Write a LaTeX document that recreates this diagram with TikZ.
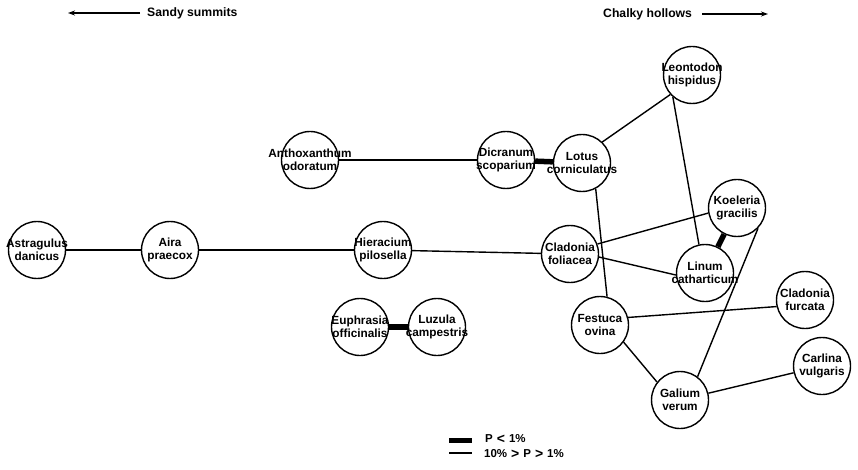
\documentclass[tikz,border=0pt]{standalone}
\usepackage{fontspec}
\setmainfont{Liberation Sans}
\usetikzlibrary{arrows.meta}
\newcommand{\bigrel}[1]{\hspace{4pt}\raisebox{-0.5pt}{\fontsize{14}{12}\selectfont #1}\hspace{4pt}}
\begin{document}
\begin{tikzpicture}[x=1pt,y=-1pt,
  sp/.style={draw, circle, line width=1.4pt, minimum size=57pt, inner sep=0pt},
  lbl/.style={font=\bfseries\fontsize{11.8}{13.5}\selectfont, align=center, inner sep=0pt},
  weaklink/.style={line width=1.4pt},
  stronglink/.style={line width=5.5pt},
  toplbl/.style={font=\bfseries\fontsize{12.2}{13}\selectfont, inner sep=0pt, anchor=west},
  legtxt/.style={font=\bfseries\fontsize{11.5}{12}\selectfont, inner sep=0pt, anchor=west},
  dirarrow/.style={line width=1.4pt, -{Stealth[length=7pt,width=5pt]}}]
\useasboundingbox (0,0) rectangle (858,470);

% species
\node[sp, label={[lbl]center:{Astragulus\\danicus}}] (ast) at (37,250) {};
\node[sp, label={[lbl]center:{Aira\\praecox}}] (aira) at (170,250) {};
\node[sp, label={[lbl]center:{Hieracium\\pilosella}}] (hier) at (383,250) {};
\node[sp, label={[lbl]center:{Anthoxanthum\\odoratum}}] (antho) at (310,160) {};
\node[sp, label={[lbl]center:{Dicranum\\scoparium}}] (dicr) at (506,160) {};
\node[sp, label={[lbl]center:{Lotus\\corniculatus}}] (lotus) at (582,163) {};
\node[sp, label={[lbl]center:{Leontodon\\hispidus}}] (leon) at (692,75) {};
\node[sp, label={[lbl]center:{Koeleria\\gracilis}}] (koel) at (737,208) {};
\node[sp, label={[lbl]center:{Cladonia\\foliacea}}] (clfol) at (570,254) {};
\node[sp, label={[lbl]center:{Linum\\catharticum}}] (linum) at (705,273) {};
\node[sp, label={[lbl]center:{Festuca\\ovina}}] (fest) at (600,325) {};
\node[sp, label={[lbl]center:{Cladonia\\furcata}}] (clfur) at (805,300) {};
\node[sp, label={[lbl]center:{Euphrasia\\officinalis}}] (euph) at (360,327) {};
\node[sp, label={[lbl]center:{Luzula\\campestris}}] (luz) at (437,327) {};
\node[sp, label={[lbl]center:{Galium\\verum}}] (gal) at (680,400) {};
\node[sp, label={[lbl]center:{Carlina\\vulgaris}}] (carl) at (822,366) {};

% weak links
\draw[weaklink] (ast) -- (aira);
\draw[weaklink] (aira) -- (hier);
\draw[weaklink] (hier) -- (clfol);
\draw[weaklink] (antho) -- (dicr);
\draw[weaklink] (lotus.46) -- (leon.222);
\draw[weaklink] (lotus.-62) -- (fest.76);
\draw[weaklink] (leon.229) -- (linum.102);
\draw[weaklink] (clfol.20) -- (koel.190);
\draw[weaklink] (clfol.-6) -- (linum.184);
\draw[weaklink] (koel.-44) -- (gal.53);
\draw[weaklink] (fest.15) -- (clfur.193);
\draw[weaklink] (fest.-36) -- (gal.142);
\draw[weaklink] (gal) -- (carl);

% strong links
\draw[stronglink] (dicr) -- (lotus);
\draw[stronglink] (koel) -- (linum);
\draw[stronglink] (euph) -- (luz);

% direction labels
\coordinate (sa1) at (140,13);
\coordinate (sa2) at (68,13);
\draw[dirarrow] (sa1) -- (sa2);
\node[toplbl] (sandy) at (147,13) {Sandy summits};
\node[toplbl] (chalky) at (603,14) {Chalky hollows};
\coordinate (ch1) at (702,14);
\coordinate (ch2) at (768,14);
\draw[dirarrow] (ch1) -- (ch2);

% legend
\coordinate (l1a) at (449,440);
\coordinate (l1b) at (472,440);
\coordinate (l2a) at (449,453);
\coordinate (l2b) at (472,453);
\draw[line width=5pt] (l1a) -- (l1b);
\draw[weaklink] (l2a) -- (l2b);
\node[legtxt] (leg1) at (485,439) {P\bigrel{<}1\%};
\node[legtxt] (leg2) at (484,454) {10\%\bigrel{>}P\bigrel{>}1\%};
\end{tikzpicture}
\end{document}
